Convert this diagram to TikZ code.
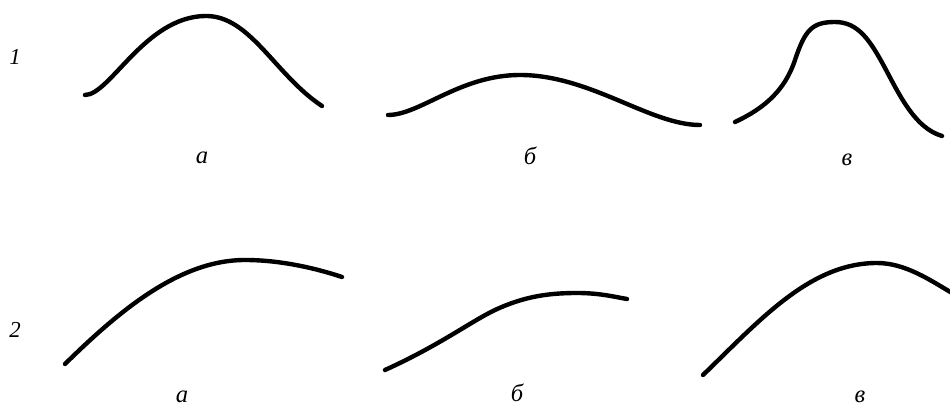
\documentclass[tikz,border=0pt]{standalone}
\usepackage{fontspec}
\setmainfont{Liberation Serif}
\usetikzlibrary{positioning}
\tikzset{curve/.style={draw=black,line width=2.5pt,line cap=round,line join=round},
  rowtag/.style={font=\fontsize{13}{15}\selectfont\itshape,inner sep=0pt},
  casetag/.style={font=\fontsize{14}{16}\selectfont\itshape,inner sep=0pt}}

\begin{document}
\begin{tikzpicture}[x=.02cm,y=-.02cm]
\useasboundingbox (0,0) rectangle (950,408);
% row 1
\node[rowtag] (r1) at (15,57) {1};
\draw[curve] (85,95) .. controls (110,95) and (145,17) .. (205,16)
  .. controls (250,15) and (275,75) .. (322,106);
\draw[curve] (388,115) .. controls (420,115) and (460,75) .. (520,75)
  .. controls (590,75) and (650,125) .. (700,125);
\draw[curve] (735,122) .. controls (765,108) and (785,90) .. (795,60)
  .. controls (805,30) and (812,22) .. (835,22)
  .. controls (858,22) and (870,40) .. (885,68)
  .. controls (900,96) and (915,128) .. (942,136);
\node[casetag] (a1) at (202,158) {а};
\node[casetag] (b1) at (530,156) {б};
\node[casetag] (v1) at (847,160) {в};
% row 2
\node[rowtag] (r2) at (15,330) {2};
\draw[curve] (65,364) .. controls (120,310) and (180,260) .. (245,260)
  .. controls (280,260) and (315,268) .. (342,277);
\draw[curve] (385,370) .. controls (440,345) and (470,322) .. (495,310)
  .. controls (525,296) and (550,293) .. (577,293)
  .. controls (600,293) and (615,297) .. (627,299);
\draw[curve] (703,375) .. controls (760,320) and (810,263) .. (877,263)
  .. controls (905,263) and (930,280) .. (952,293);
\node[casetag] (a2) at (182,397) {а};
\node[casetag] (b2) at (517,393) {б};
\node[casetag] (v2) at (860,397) {в};
\end{tikzpicture}
\end{document}
